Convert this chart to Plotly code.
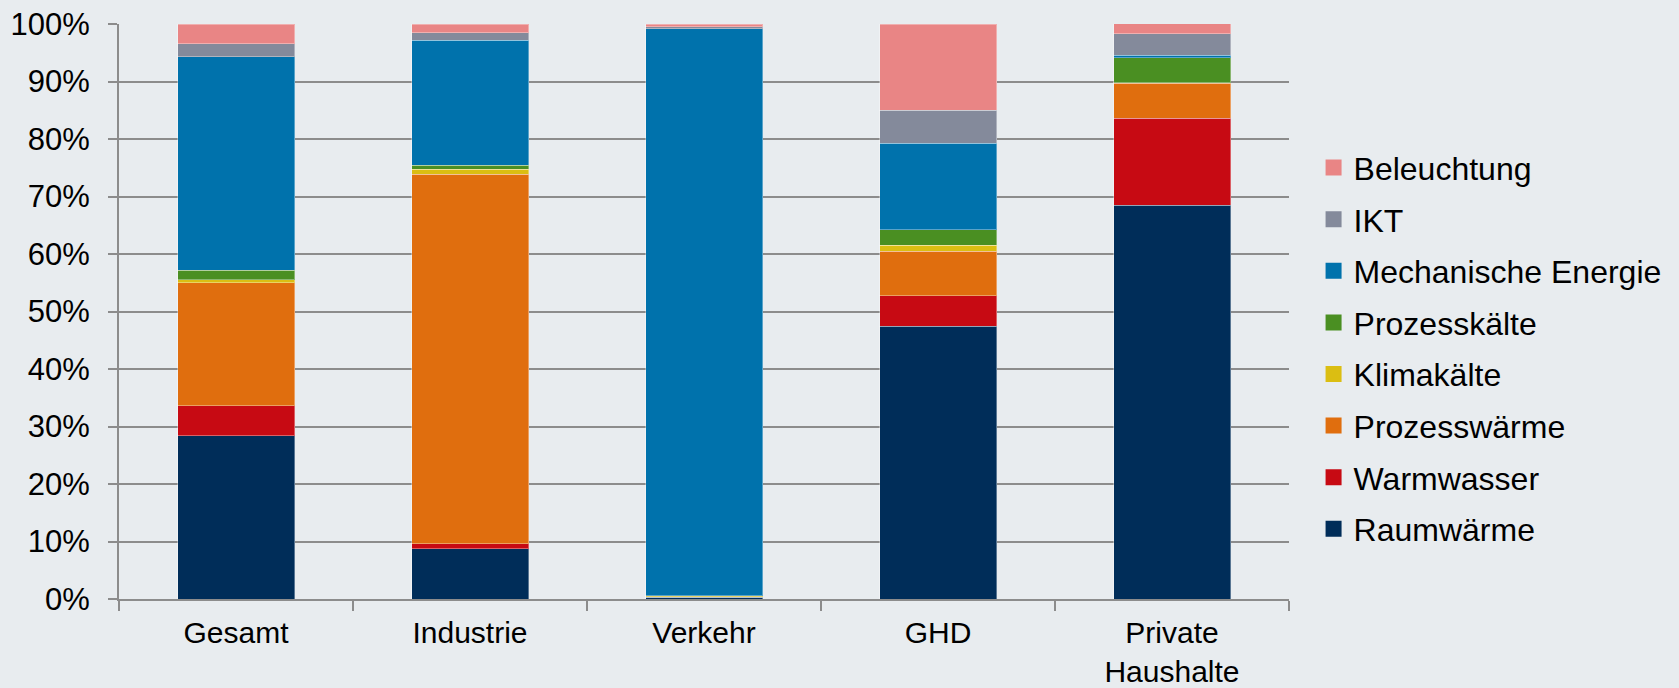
import plotly.graph_objects as go

categories = ["Gesamt", "Industrie", "Verkehr", "GHD", "Private<br>Haushalte"]

raumwaerme = [28.4, 8.7, 0.3, 47.4, 68.5]
warmwasser = [5.2, 0.9, 0.0, 5.3, 15.1]
prozesswaerme = [21.4, 64.3, 0.1, 7.8, 6.1]
klimakaelte = [0.5, 0.8, 0.2, 1.0, 0.1]
prozesskaelte = [1.7, 0.7, 0.0, 2.7, 4.3]
mech_energie = [37.1, 21.8, 98.6, 15.1, 0.5]
ikt = [2.3, 1.3, 0.3, 5.7, 3.7]
beleuchtung = [3.4, 1.5, 0.5, 15.0, 1.8]

series_names = ["Raumwärme", "Warmwasser", "Prozesswärme", "Klimakälte",
                "Prozesskälte", "Mechanische Energie", "IKT", "Beleuchtung"]
series_values = [raumwaerme, warmwasser, prozesswaerme, klimakaelte,
                 prozesskaelte, mech_energie, ikt, beleuchtung]
colors = ["#002D59", "#C70A13", "#E06E0E", "#DBBE12",
          "#4A8F22", "#0072AC", "#848A9B", "#E98585"]

tick_vals = [0, 10, 20, 30, 40, 50, 60, 70, 80, 90, 100]
tick_text = ["0%", "10%", "20%", "30%", "40%", "50%", "60%", "70%", "80%", "90%", "100%"]

FONT = "Liberation Sans, Arial, sans-serif"
BG = "#E8ECEF"
GRID = "#8C8C8C"

fig = go.Figure()
n = len(series_names)
for i, (name, vals, col) in enumerate(zip(series_names, series_values, colors)):
    fig.add_trace(go.Bar(
        x=categories, y=vals, name=name,
        marker=dict(color=col, line=dict(color="rgba(255,255,255,0.35)", width=1)),
        showlegend=False, legendgroup=name,
    ))
# legend entries (square swatches), top item = last series
for i, (name, col) in enumerate(zip(series_names, colors)):
    fig.add_trace(go.Scatter(
        x=[None], y=[None], mode="markers", name=name,
        marker=dict(symbol="square", size=16, color=col),
        legendgroup=name, legendrank=n - i, showlegend=True,
    ))

fig.update_layout(
    barmode="stack",
    bargap=0.5,
    width=1679, height=688,
    margin=dict(l=119, r=390, t=23.5, b=89, autoexpand=False),
    paper_bgcolor=BG, plot_bgcolor=BG,
    font=dict(family=FONT, size=31, color="#000000"),
    showlegend=True,
    legend=dict(
        x=1.021, xanchor="left", xref="paper",
        y=0.436, yanchor="middle",
        font=dict(family=FONT, size=32, color="#000000"),
        bgcolor="rgba(0,0,0,0)",
        traceorder="grouped", tracegroupgap=7,
        itemclick=False,
    ),
    xaxis=dict(
        type="category",
        showgrid=False,
        showline=True, linecolor=GRID, linewidth=2,
        ticks="outside", tickson="boundaries", ticklen=10, tickwidth=2, tickcolor=GRID,
        tickfont=dict(family=FONT, size=30, color="#000000"),
        ticklabelstandoff=6,
        fixedrange=True,
    ),
    yaxis=dict(
        range=[0, 100],
        tickvals=tick_vals, ticktext=tick_text,
        showgrid=True, gridcolor=GRID, gridwidth=2,
        showline=True, linecolor=GRID, linewidth=2,
        ticks="outside", ticklen=9, tickwidth=2, tickcolor=GRID,
        tickfont=dict(family=FONT, size=31, color="#000000"),
        ticklabelstandoff=12,
        zeroline=False,
        fixedrange=True,
    ),
)

fig.write_html(
    "out.html",
    config={"displayModeBar": False},
    post_script="document.body.style.margin='0px';document.body.style.padding='0px';"
                "document.body.style.background='#E8ECEF';",
)
